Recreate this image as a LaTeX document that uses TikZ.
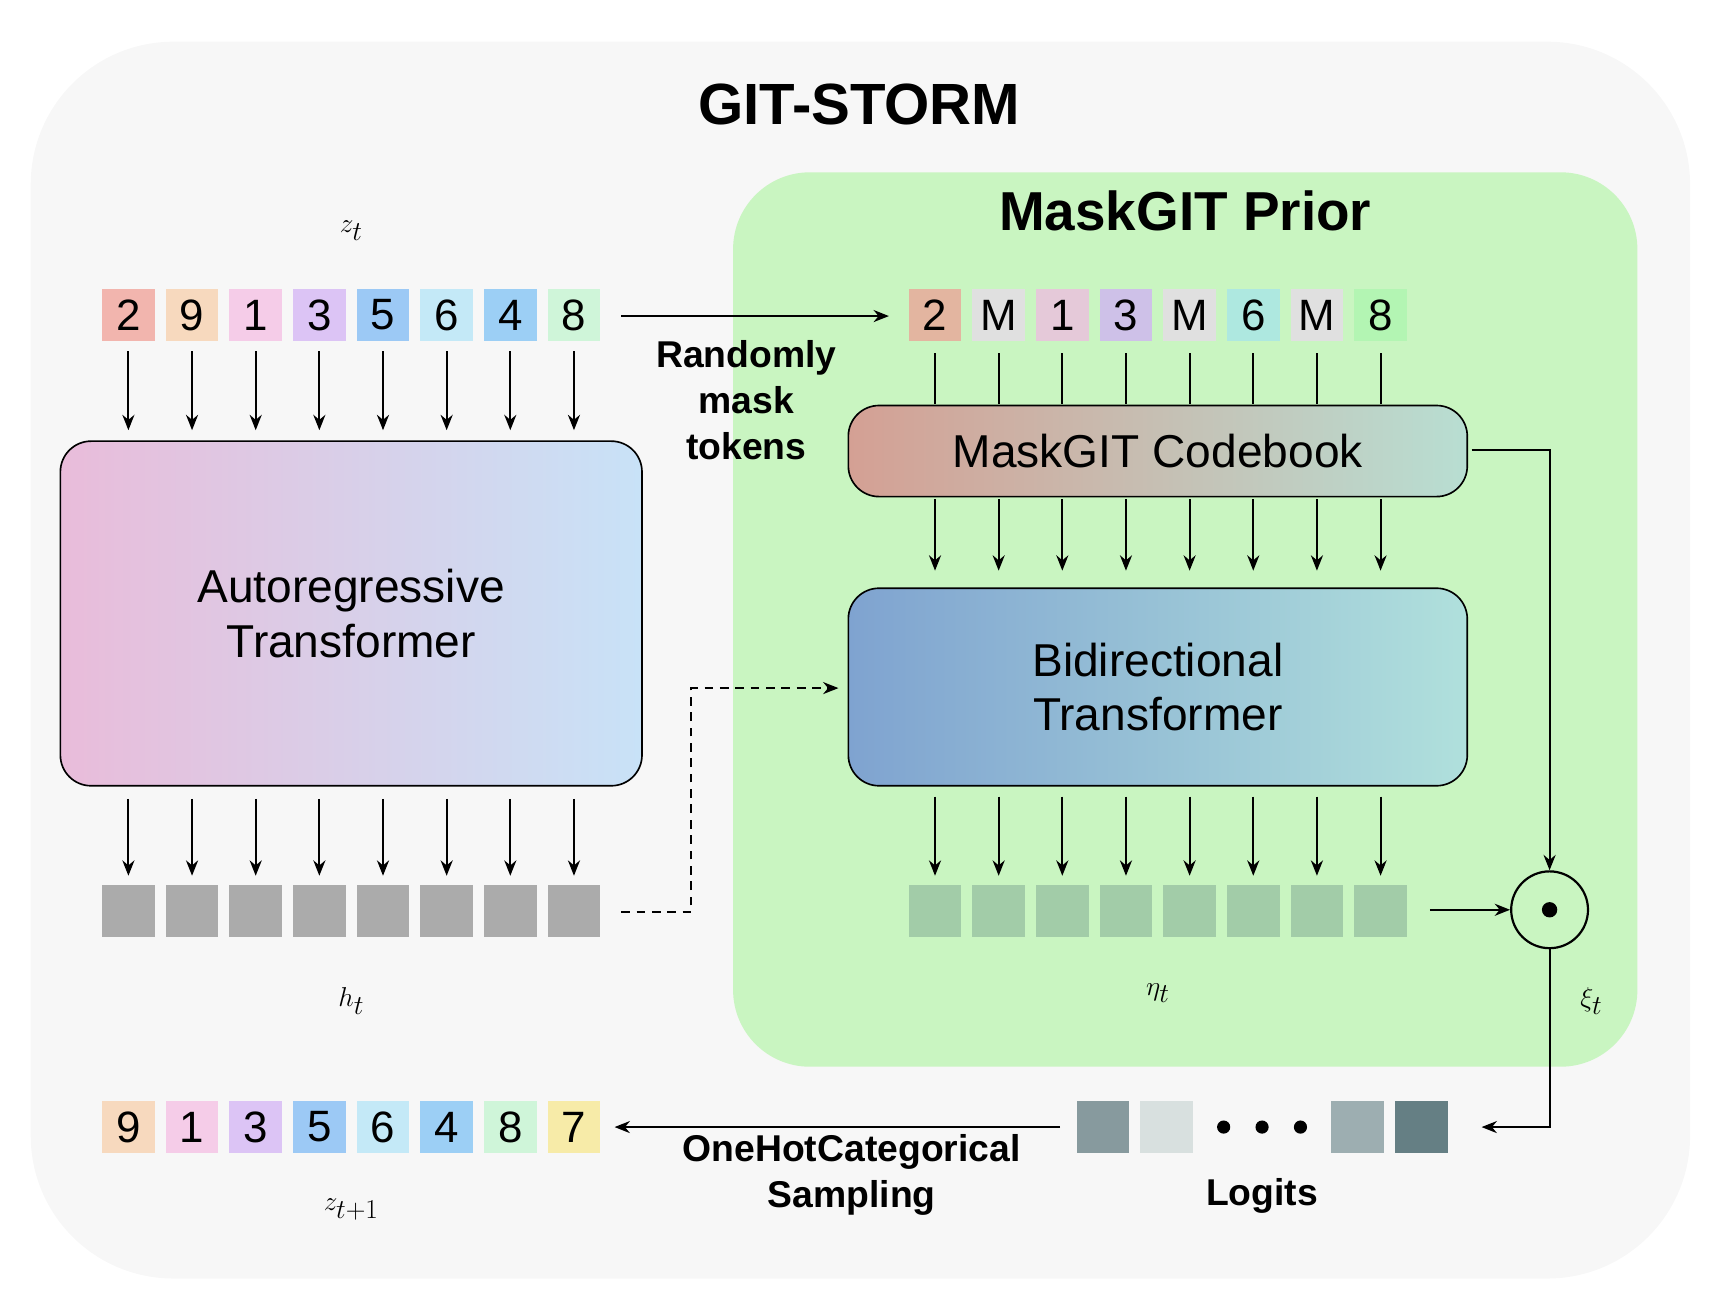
\documentclass[tikz,border=0pt]{standalone}
\usepackage{fontspec}
\setmainfont{Liberation Sans}
\usetikzlibrary{arrows.meta}
\begin{document}
\begin{tikzpicture}[x=1pt,y=-1pt,
 arr/.style={line width=1.8pt,-{Stealth[length=14pt,width=11pt]}},
 tok/.style={minimum width=48pt,minimum height=48pt,inner sep=0pt,font=\fontsize{40}{40}\selectfont},
 big/.style={rounded corners=28pt,draw=black,line width=1.5pt,align=center,font=\fontsize{42}{50}\selectfont,inner sep=0pt},
 lab/.style={font=\fontsize{34}{42}\bfseries\selectfont,align=center},
 mth/.style={font=\fontsize{50}{50}\selectfont}]
\useasboundingbox (0,0) rectangle (1560,1185);
\fill[rounded corners=130pt,fill=black!3] (28,38) rectangle (1540,1165);
\fill[rounded corners=70pt,fill={rgb,255:red,201;green,245;blue,193}] (668,157) rectangle (1492,972);
\node[font=\fontsize{53}{53}\bfseries\selectfont] (title) at (783,95) {GIT-STORM};
\node[font=\fontsize{50}{50}\bfseries\selectfont] (prior) at (1080,192) {MaskGIT Prior};
\node[mth] (zt) at (320,210) {$z_t$};
\node[mth] (ht) at (320,912) {$h_t$};
\node[mth] (eta) at (1055,905) {$\eta_t$};
\node[mth] (xi) at (1450,912) {$\xi_t$};
\node[mth] (zt1) at (320,1102) {$z_{t+1}$};
% top tokens
\foreach \d/\c [count=\i] in {2/F2B5AE,9/F7D9BE,1/F5CCE8,3/DCC4F5,5/9CC9F5,6/C4E9F7,4/9CCFF5,8/CFF5D9}{
 \definecolor{tc}{HTML}{\c}
 \node[tok,fill=tc] (t\i) at (59+58*\i,287) {\d};
 \node[tok,fill={rgb,255:red,171;green,171;blue,171}] (h\i) at (59+58*\i,830) {};
 \coordinate (ta\i) at (59+58*\i,320);
 \coordinate (tb\i) at (59+58*\i,392);
 \coordinate (ha\i) at (59+58*\i,728);
 \coordinate (hb\i) at (59+58*\i,798);
 \draw[arr] (ta\i) -- (tb\i);
 \draw[arr] (ha\i) -- (hb\i);
}
\foreach \d/\c [count=\i] in {9/F7D9BE,1/F5CCE8,3/DCC4F5,5/9CC9F5,6/C4E9F7,4/9CCFF5,8/CFF5D9,7/F7EBA8}{
 \definecolor{tc}{HTML}{\c}
 \node[tok,fill=tc] (b\i) at (59+58*\i,1027) {\d};
}
\foreach \d/\c [count=\i] in {2/E3B5A0,M/E0E0E0,1/E5C9D9,3/CEC1E8,M/E0E0E0,6/AEE8E0,M/E0E0E0,8/B3F5B3}{
 \definecolor{tc}{HTML}{\c}
 \node[tok,fill=tc] (m\i) at (794+58*\i,287) {\d};
 \node[tok,fill={rgb,255:red,162;green,204;blue,168}] (e\i) at (794+58*\i,830) {};
 \coordinate (ma\i) at (794+58*\i,322);
 \coordinate (mb\i) at (794+58*\i,368);
 \coordinate (ca\i) at (794+58*\i,455);
 \coordinate (cb\i) at (794+58*\i,520);
 \coordinate (da\i) at (794+58*\i,726);
 \coordinate (db\i) at (794+58*\i,798);
 \draw[line width=1.8pt] (ma\i) -- (mb\i);
 \draw[arr] (ca\i) -- (cb\i);
 \draw[arr] (da\i) -- (db\i);
}
\node[big,minimum width=530pt,minimum height=314pt,left color={rgb,255:red,233;green,188;blue,218},right color={rgb,255:red,200;green,226;blue,247}] (ar) at (320,559) {Autoregressive\\Transformer};
\node[big,minimum width=564pt,minimum height=83pt,left color={rgb,255:red,212;green,160;blue,148},right color={rgb,255:red,184;green,222;blue,210}] (cb) at (1055,411) {MaskGIT Codebook};
\node[big,minimum width=564pt,minimum height=180pt,left color={rgb,255:red,127;green,163;blue,208},right color={rgb,255:red,176;green,224;blue,220}] (bt) at (1055,626) {Bidirectional\\Transformer};
% top arrow
\coordinate (s1) at (566,288); \coordinate (s2) at (810,288);
\draw[arr] (s1) -- (s2);
\node[lab] (rm) at (680,365) {Randomly\\mask\\tokens};
% dashed
\coordinate (d1) at (566,831); \coordinate (d2) at (630,831); \coordinate (d3) at (630,627); \coordinate (d4) at (764,627);
\draw[arr,dashed,dash pattern=on 8pt off 6pt] (d1) -- (d2) -- (d3) -- (d4);
% product
\node[circle,draw,line width=2pt,minimum size=70pt,inner sep=0pt] (od) at (1412,829) {};
\fill (od.center) circle (7pt);
\coordinate (e1) at (1303,829);
\draw[arr] (e1) -- (od.west);
\coordinate (c1) at (1341,410); \coordinate (c2) at (1412,410);
\draw[arr] (c1) -- (c2) -- (od.north);
\coordinate (o2) at (1412,1027); \coordinate (o3) at (1350,1027);
\draw[arr] (od.south) -- (o2) -- (o3);
% logits
\node[tok,fill={rgb,255:red,135;green,154;blue,158}] (l1) at (1005,1027) {};
\node[tok,fill={rgb,255:red,216;green,224;blue,223}] (l2) at (1063,1027) {};
\node[tok,fill={rgb,255:red,157;green,174;blue,177}] (l3) at (1237,1027) {};
\node[tok,fill={rgb,255:red,101;green,127;blue,132}] (l4) at (1295,1027) {};
\foreach \x in {1115,1150,1185} \fill (\x,1027) circle (6pt);
\node[lab] (lg) at (1150,1090) {Logits};
\coordinate (g1) at (966,1027); \coordinate (g2) at (560,1027);
\draw[arr] (g1) -- (g2);
\node[lab] (oh) at (776,1071) {OneHotCategorical\\Sampling};
\end{tikzpicture}
\end{document}
